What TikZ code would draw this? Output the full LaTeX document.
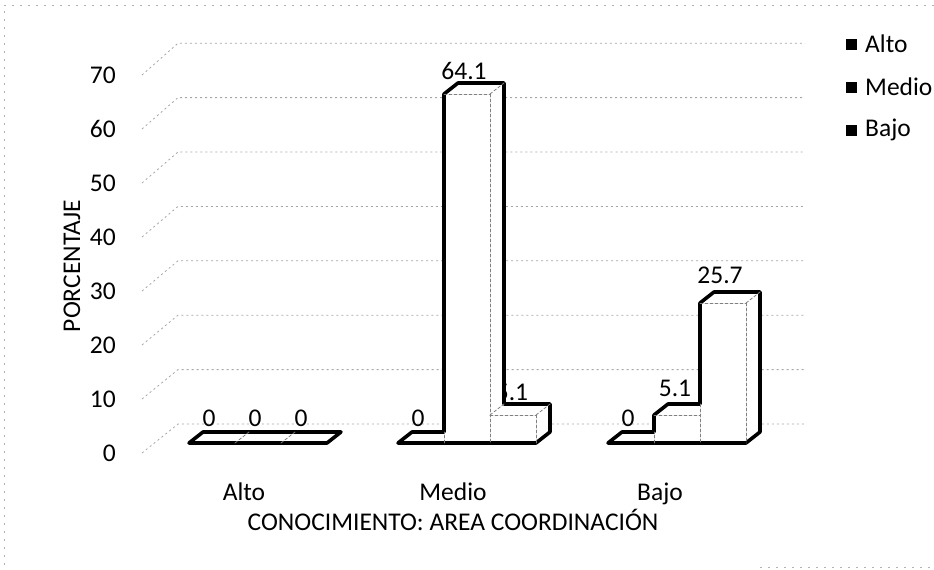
\documentclass[tikz,border=0pt]{standalone}
\usepackage{fontspec}
\setmainfont{Carlito}
\usepackage{tkz-euclide}

\tikzset{
	gridline/.style={gray!70, line width=0.8pt, dash pattern=on 2pt off 3pt},
	frameline/.style={gray!60, line width=0.8pt, dash pattern=on 2pt off 6pt},
	barline/.style={line width=3.6pt, line join=round, fill=white},
	inedge/.style={gray, line width=0.8pt, dash pattern=on 3pt off 2pt},
	lbl/.style={font=\fontsize{25.5}{30}\selectfont, inner sep=0pt},
	keybox/.style={fill=black, minimum size=11pt, inner sep=0pt},
}

\begin{document}
\begin{tikzpicture}[x=1pt, y=-1pt]
		\useasboundingbox (0,0) rectangle (934,570);
		\draw[frameline] (934,5) -- (4,5) -- (4,567);
		\draw[frameline] (760,567) -- (934,567);
		% walls
		\draw[gridline] (142,453) -- (178,424.0) -- (805,424.0);
		\draw[gridline] (142,399) -- (178,369.6) -- (805,369.6);
		\draw[gridline] (142,345) -- (178,315.2) -- (805,315.2);
		\draw[gridline] (142,291) -- (178,260.8) -- (805,260.8);
		\draw[gridline] (142,237) -- (178,206.4) -- (805,206.4);
		\draw[gridline] (142,183) -- (178,152.0) -- (805,152.0);
		\draw[gridline] (142,129) -- (178,97.6) -- (805,97.6);
		\draw[gridline] (142,75) -- (178,43.2) -- (805,43.2);
		\node[lbl, anchor=east] (t0) at (116,453) {0};
		\node[lbl, anchor=east] (t10) at (116,399) {10};
		\node[lbl, anchor=east] (t20) at (116,345) {20};
		\node[lbl, anchor=east] (t30) at (116,291) {30};
		\node[lbl, anchor=east] (t40) at (116,237) {40};
		\node[lbl, anchor=east] (t50) at (116,183) {50};
		\node[lbl, anchor=east] (t60) at (116,129) {60};
		\node[lbl, anchor=east] (t70) at (116,75) {70};
		% label hidden behind the tall bar
		\node[lbl] (vm3) at (512,392) {5.1};
		% Alto
		\tkzDefPoint(189,443){a_{1}}\tkzDefPoint(203,432){a_{2}}
		\tkzDefPoint(341,432){a_{3}}\tkzDefPoint(327,443){a_{4}}
		\tkzDefPoint(235,443){a_{5}}\tkzDefPoint(249,432){a_{6}}
		\tkzDefPoint(281,443){a_{7}}\tkzDefPoint(295,432){a_{8}}
		\tkzDrawPolygon[barline](a_{1},a_{2},a_{3},a_{4})
		\tkzDrawSegments[inedge](a_{5},a_{6} a_{7},a_{8})
		% Medio
		\tkzDefPoint(398,443){m_{1}}\tkzDefPoint(412,432){m_{2}}
		\tkzDefPoint(444,432){m_{3}}\tkzDefPoint(444,94){m_{4}}
		\tkzDefPoint(458,83){m_{5}}\tkzDefPoint(504,83){m_{6}}
		\tkzDefPoint(504,404){m_{7}}\tkzDefPoint(550,404){m_{8}}
		\tkzDefPoint(550,432){m_{9}}\tkzDefPoint(536,443){m_{10}}
		\tkzDefPoint(444,443){m_{11}}\tkzDefPoint(490,94){m_{12}}
		\tkzDefPoint(490,443){m_{13}}\tkzDefPoint(490,415){m_{14}}
		\tkzDefPoint(536,415){m_{15}}
		\tkzDrawPolygon[barline](m_{1},m_{2},m_{3},m_{4},m_{5},m_{6},m_{7},m_{8},m_{9},m_{10})
		\tkzDrawSegments[inedge](m_{11},m_{3} m_{4},m_{12} m_{12},m_{6} m_{12},m_{13} m_{14},m_{15} m_{14},m_{7} m_{15},m_{10} m_{15},m_{8})
		% Bajo
		\tkzDefPoint(608,443){b_{1}}\tkzDefPoint(622,432){b_{2}}
		\tkzDefPoint(654,432){b_{3}}\tkzDefPoint(654,415){b_{4}}
		\tkzDefPoint(668,404){b_{5}}\tkzDefPoint(700,404){b_{6}}
		\tkzDefPoint(700,303){b_{7}}\tkzDefPoint(714,292){b_{8}}
		\tkzDefPoint(760,292){b_{9}}\tkzDefPoint(760,432){b_{10}}
		\tkzDefPoint(746,443){b_{11}}\tkzDefPoint(654,443){b_{12}}
		\tkzDefPoint(700,415){b_{13}}\tkzDefPoint(700,443){b_{14}}
		\tkzDefPoint(746,303){b_{15}}
		\tkzDrawPolygon[barline](b_{1},b_{2},b_{3},b_{4},b_{5},b_{6},b_{7},b_{8},b_{9},b_{10},b_{11})
		\tkzDrawSegments[inedge](b_{12},b_{3} b_{4},b_{13} b_{6},b_{14} b_{7},b_{15} b_{15},b_{11} b_{15},b_{9})
		% values
		\node[lbl] (va1) at (209,418) {0};
		\node[lbl] (va2) at (255,418) {0};
		\node[lbl] (va3) at (301,418) {0};
		\node[lbl] (vm1) at (418,418) {0};
		\node[lbl] (vm2) at (464,71) {64.1};
		\node[lbl] (vb1) at (628,418) {0};
		\node[lbl] (vb2) at (675,388) {5.1};
		\node[lbl] (vb3) at (720,275) {25.7};
		% axes
		\node[lbl, anchor=base] (ca) at (244,500) {Alto};
		\node[lbl, anchor=base] (cm) at (453,500) {Medio};
		\node[lbl, anchor=base] (cb) at (660,500) {Bajo};
		\node[lbl] (xt) at (453,520) {CONOCIMIENTO: AREA COORDINACIÓN};
		\node[lbl, rotate=90] (yt) at (72,266) {PORCENTAJE};
		% legend
		\node[keybox] (ka) at (851,44) {};
		\node[keybox] (km) at (851,87) {};
		\node[keybox] (kb) at (851,130) {};
		\node[lbl, anchor=west] (la) at (865,44) {Alto};
		\node[lbl, anchor=west] (lm) at (865,87) {Medio};
		\node[lbl, anchor=west] (lb) at (865,130) {Bajo};
	\end{tikzpicture}
\end{document}
